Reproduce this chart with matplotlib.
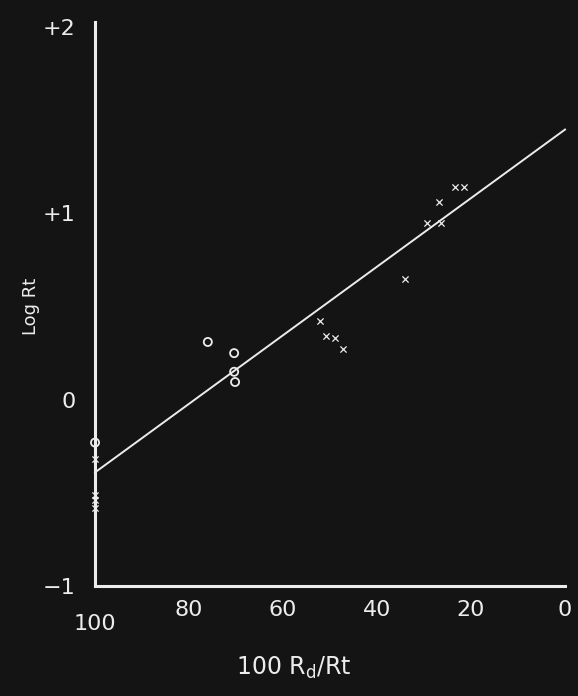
#!/usr/bin/env python
# -*- coding: utf-8 -*-

'''
Log Rt contra 100 Rd/Rt, com a reta ajustada
'''

import matplotlib
matplotlib.use('Agg')
import matplotlib.pyplot as plt

# pontos em circulo
circ_x = [100, 76.0, 70.4, 70.4, 70.2]
circ_y = [-0.23, 0.31, 0.25, 0.15, 0.095]

# pontos em cruz
cruz_x = [100, 100, 100, 100, 52.1, 50.9, 48.9, 47.2, 34.0,
          29.4, 26.4, 26.8, 23.4, 21.5]
cruz_y = [-0.32, -0.51, -0.54, -0.58, 0.42, 0.34, 0.33, 0.27, 0.65,
          0.95, 0.95, 1.06, 1.14, 1.14]

# reta ajustada (extremos)
reta_x = [100, 0]
reta_y = [-0.39, 1.45]

x_ticks = [100, 80, 60, 40, 20, 0]
x_labels = ['100', '80', '60', '40', '20', '0']
y_ticks = [-1, 0, 1, 2]
y_labels = ['\u22121', '0', '+1', '+2']

fundo = '#141414'
branco = '#ececec'


def plot():
    fig = plt.figure(figsize=(5.78, 6.96), dpi=100, facecolor=fundo)
    ax = fig.add_axes([0.1644, 0.158, 0.8131, 0.8103])
    ax.set_facecolor(fundo)

    ax.plot(reta_x, reta_y, color=branco, linewidth=1.4, clip_on=False)
    ax.scatter(circ_x, circ_y, s=34, facecolors='none', edgecolors=branco,
               linewidths=1.3, clip_on=False, zorder=3)
    ax.scatter(cruz_x, cruz_y, s=20, marker='x', color=branco,
               linewidths=0.9, clip_on=False, zorder=3)

    ax.set_xlim(100, 0)
    ax.set_ylim(-1, 2.027)

    for lado in ['top', 'right']:
        ax.spines[lado].set_visible(False)
    for lado in ['left', 'bottom']:
        ax.spines[lado].set_color(branco)
        ax.spines[lado].set_linewidth(2.2)

    ax.set_xticks(x_ticks)
    ax.set_xticklabels(x_labels)
    ax.set_yticks(y_ticks)
    ax.set_yticklabels(y_labels)
    ax.tick_params(axis='x', length=0, pad=10, labelsize=16,
                   labelcolor=branco)
    ax.tick_params(axis='y', length=0, pad=14, labelsize=16,
                   labelcolor=branco)
    # o "100" fica um pouco mais abaixo
    ax.xaxis.get_major_ticks()[0].set_pad(20)

    ax.set_ylabel('Log Rt', color=branco, fontsize=13, va='center')
    ax.yaxis.set_label_coords(-0.136, 0.495)
    ax.set_xlabel('100 R$_{\\mathregular{d}}$/Rt', color=branco,
                  fontsize=17, va='center')
    ax.xaxis.set_label_coords(0.423, -0.145)

    fig.savefig('out.png', dpi=100, facecolor=fundo)


if __name__ == '__main__':
    plot()
